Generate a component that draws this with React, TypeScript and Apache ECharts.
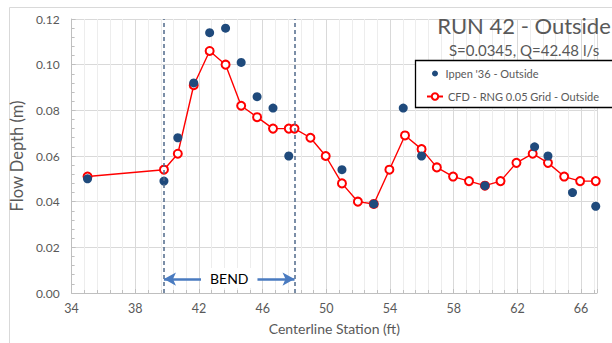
import React, { useEffect, useRef } from "react";
import * as echarts from "echarts";

// Ippen '36 measured points (station ft, depth m)
const ippenStation = [35.0, 39.8, 40.67, 41.67, 42.67, 43.67, 44.65, 45.65, 46.65, 47.64, 50.98, 52.98, 54.83, 55.98, 59.96, 63.08, 63.92, 65.46, 66.92];
const ippenDepth = [0.050, 0.049, 0.068, 0.092, 0.114, 0.116, 0.101, 0.086, 0.081, 0.060, 0.054, 0.039, 0.081, 0.060, 0.047, 0.064, 0.060, 0.044, 0.038];

// CFD results
const cfdStation = [35.0, 39.8, 40.67, 41.67, 42.67, 43.67, 44.65, 45.65, 46.65, 47.64, 48.0, 49.0, 49.96, 50.98, 51.98, 52.98, 53.96, 54.94, 55.98, 56.94, 57.96, 58.96, 59.96, 60.94, 61.94, 62.96, 63.92, 64.94, 65.94, 66.92];
const cfdDepth = [0.051, 0.054, 0.061, 0.091, 0.106, 0.100, 0.082, 0.077, 0.072, 0.072, 0.072, 0.068, 0.060, 0.048, 0.040, 0.039, 0.054, 0.069, 0.063, 0.055, 0.051, 0.049, 0.047, 0.049, 0.057, 0.061, 0.057, 0.051, 0.049, 0.049];

// Axis settings
const xMin = 34;
const xMax = 67;
const xInterval = 4;
const yMin = 0;
const yMax = 0.12;
const yInterval = 0.02;

// Bend markers
const bendStart = 39.8;
const bendEnd = 48.0;
const bendArrowDepth = 0.0061;
const bendLabel = "BEND";

const seriesNames = ["Ippen '36 - Outside", "CFD - RNG 0.05 Grid - Outside"];
const titleText = "RUN 42 - Outside";
const subtitleText = "S=0.0345, Q=42.48 l/s";
const xName = "Centerline Station (ft)";
const yName = "Flow Depth (m)";

const FONT = "Lato, 'Noto Sans', sans-serif";
const GRAY = "#595959";

export default function App() {
  const ref = useRef<HTMLDivElement>(null);
  useEffect(() => {
    if (!ref.current) return;
    const chart = echarts.init(ref.current, undefined, { renderer: "svg" });
    const ippen = ippenStation.map((x, i) => [x, ippenDepth[i]]);
    const cfd = cfdStation.map((x, i) => [x, cfdDepth[i]]);
    chart.setOption({
      animation: false,
      backgroundColor: "#fff",
      textStyle: { fontFamily: FONT },
      grid: { left: 69, top: 19, width: 528, height: 274, containLabel: false },
      xAxis: {
        type: "value",
        min: xMin,
        max: xMax,
        interval: xInterval,
        name: xName,
        nameLocation: "middle",
        nameGap: 28,
        nameTextStyle: { color: GRAY, fontSize: 14, fontFamily: FONT },
        axisLine: { show: true, lineStyle: { color: "#BFBFBF" } },
        axisTick: { show: true, inside: true, length: 4, lineStyle: { color: "#BFBFBF" } },
        minorTick: { show: true, splitNumber: 5, length: 3, lineStyle: { color: "#BFBFBF" } },
        splitLine: { show: true, lineStyle: { color: "#D9D9D9" } },
        minorSplitLine: { show: true, lineStyle: { color: "#EDEDED" } },
        axisLabel: { color: GRAY, fontSize: 12.5, margin: 9, showMaxLabel: false, fontFamily: FONT },
      },
      yAxis: {
        type: "value",
        min: yMin,
        max: yMax,
        interval: yInterval,
        name: yName,
        nameLocation: "middle",
        nameGap: 38,
        nameRotate: 90,
        nameTextStyle: { color: GRAY, fontSize: 16.5, fontFamily: FONT },
        axisLine: { show: true, lineStyle: { color: "#BFBFBF" } },
        axisTick: { show: true, inside: true, length: 4, lineStyle: { color: "#BFBFBF" } },
        minorTick: { show: true, splitNumber: 5, length: 3, lineStyle: { color: "#BFBFBF" } },
        splitLine: { show: true, lineStyle: { color: "#D9D9D9" } },
        axisLabel: { color: GRAY, fontSize: 12, margin: 12, formatter: (v: number) => v.toFixed(2), fontFamily: FONT },
      },
      legend: [
        {
          data: [seriesNames[0]],
          left: 432,
          top: 68,
          itemWidth: 11,
          itemHeight: 6,
          padding: 0,
          z: 6,
          textStyle: { color: GRAY, fontSize: 11, fontFamily: FONT },
        },
        {
          data: [seriesNames[1]],
          left: 426,
          top: 91,
          itemWidth: 16,
          itemHeight: 8,
          padding: 0,
          z: 6,
          textStyle: { color: GRAY, fontSize: 11, fontFamily: FONT },
        },
      ],
      graphic: [
        {
          type: "rect",
          z: -10,
          silent: true,
          shape: { x: 9.5, y: 7.5, width: 620, height: 350 },
          style: { fill: "none", stroke: "#D9D9D9", lineWidth: 1 },
        },
        {
          type: "rect",
          z: 5,
          silent: true,
          shape: { x: 415.5, y: 60.5, width: 220, height: 47 },
          style: { fill: "#fff", stroke: "#000", lineWidth: 1.3 },
        },
        {
          type: "text",
          x: 524,
          y: 25,
          z: 6,
          style: { text: titleText, align: "center", verticalAlign: "middle", fill: GRAY, font: `22px ${FONT}` },
        },
        {
          type: "text",
          x: 524,
          y: 50,
          z: 6,
          style: { text: subtitleText, align: "center", verticalAlign: "middle", fill: GRAY, font: `15px ${FONT}` },
        },
      ],
      series: [
        {
          name: seriesNames[1],
          type: "line",
          data: cfd,
          symbol: "emptyCircle",
          symbolSize: 8,
          z: 2,
          lineStyle: { color: "#FF0000", width: 1.4 },
          itemStyle: { color: "#FF0000", borderColor: "#FF0000", borderWidth: 1.1 },
          markLine: {
            silent: true,
            symbol: ["none", "none"],
            label: { show: false },
            data: [
              { xAxis: bendStart, lineStyle: { color: "#50698A", width: 1.5, type: [4, 3] } },
              { xAxis: bendEnd, lineStyle: { color: "#50698A", width: 1.5, type: [4, 3] } },
              [
                {
                  coord: [bendStart, bendArrowDepth],
                  symbol: "arrow",
                  symbolSize: [10, 12],
                  lineStyle: { color: "#4A7BC0", width: 2.5, type: "solid" },
                  label: {
                    show: true,
                    position: "middle",
                    formatter: bendLabel,
                    color: "#000",
                    fontSize: 14,
                    fontFamily: FONT,
                    backgroundColor: "#fff",
                    padding: [3, 9],
                    offset: [0, 14],
                  },
                },
                { coord: [bendEnd, bendArrowDepth], symbol: "arrow", symbolSize: [10, 12] },
              ],
            ],
          },
        },
        {
          name: seriesNames[0],
          type: "scatter",
          data: ippen,
          symbol: "circle",
          symbolSize: 9,
          z: 3,
          itemStyle: { color: "#1F4A7C", opacity: 1 },
        },
      ],
    });
    return () => chart.dispose();
  }, []);
  return <div ref={ref} style={{ position: "fixed", left: 0, top: 0, width: 612, height: 343 }} />;
}
